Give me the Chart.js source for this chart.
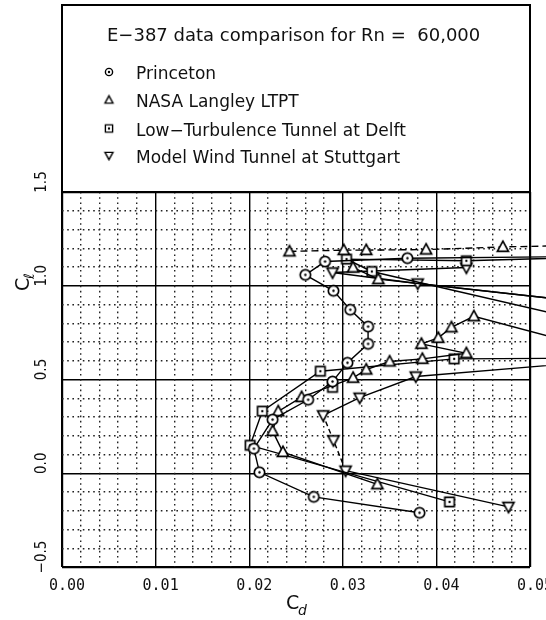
<!DOCTYPE html>
<html>
<head>
<meta charset="utf-8">
<script src="https://cdn.jsdelivr.net/npm/chart.js@4"></script>
<style>
  html, body { margin: 0; padding: 0; background: #fff; }
</style>
</head>
<body>
<canvas id="myChart" width="546" height="620"></canvas>
<script>
// E-387 polar comparison, Rn = 60,000 (Cd on x, Cl on y)

const xTicks = [0.00, 0.01, 0.02, 0.03, 0.04, 0.05];
const yTicks = [-0.5, 0.0, 0.5, 1.0, 1.5];

// Princeton
const princetonCd = [0.0382, 0.0269, 0.0211, 0.0205, 0.0225, 0.0263, 0.0289, 0.0305, 0.0327, 0.0327, 0.0308, 0.0290, 0.0260, 0.0281, 0.0369, 0.0650];
const princetonCl = [-0.211, -0.126, 0.005, 0.131, 0.286, 0.392, 0.489, 0.589, 0.690, 0.782, 0.872, 0.973, 1.058, 1.129, 1.147, 1.160];

// NASA Langley LTPT
const nasaCd = [0.0337, 0.0236, 0.0225, 0.0231, 0.0256, 0.0311, 0.0325, 0.0350, 0.0385, 0.0432, 0.0384, 0.0402, 0.0416, 0.0440, 0.0620];
const nasaCl = [-0.059, 0.113, 0.225, 0.330, 0.406, 0.509, 0.553, 0.596, 0.610, 0.640, 0.690, 0.722, 0.778, 0.837, 0.597];
const nasaUpperCd = [0.0311, 0.0338, 0.0620];
const nasaUpperCl = [1.097, 1.035, 0.879];
const nasaTopCd = [0.0243, 0.0301, 0.0325, 0.0389, 0.0471, 0.0620];
const nasaTopCl = [1.183, 1.190, 1.190, 1.193, 1.207, 1.222];

// Low-Turbulence Tunnel at Delft
const delftCd = [0.0414, 0.0201, 0.0214, 0.0276, 0.0419, 0.0620];
const delftCl = [-0.153, 0.149, 0.331, 0.544, 0.610, 0.615];
const delftUpperCd = [0.0620, 0.0432, 0.0304, 0.0331, 0.0620];
const delftUpperCl = [1.160, 1.133, 1.142, 1.076, 0.743];
const delftLoneCd = [0.0289];
const delftLoneCl = [0.458];

// Model Wind Tunnel at Stuttgart
const stuttgartCd = [0.0477, 0.0303, 0.0290, 0.0279, 0.0318, 0.0378, 0.0620];
const stuttgartCl = [-0.179, 0.014, 0.176, 0.309, 0.403, 0.516, 0.617];
const stuttgartUpperCd = [0.0432, 0.0289, 0.0380, 0.0620];
const stuttgartUpperCl = [1.097, 1.071, 1.012, 0.879];

const legendTitle = 'E\u2212387 data comparison for Rn =  60,000';
const legendNames = ['Princeton', 'NASA Langley LTPT', 'Low\u2212Turbulence Tunnel at Delft', 'Model Wind Tunnel at Stuttgart'];

const zip = (xs, ys) => xs.map((x, i) => ({ x: x, y: ys[i] }));

// marker images (open symbols, dot in circle and square)
function makeMarker(kind, r, lw) {
  const size = Math.ceil(r * 2 + 4);
  const c = document.createElement('canvas');
  c.width = size;
  c.height = size;
  const g = c.getContext('2d');
  const m = size / 2;
  g.lineWidth = lw;
  g.strokeStyle = '#000';
  g.fillStyle = '#fff';
  g.beginPath();
  if (kind === 'circle') {
    g.arc(m, m, r, 0, Math.PI * 2);
  } else if (kind === 'square') {
    g.rect(m - r, m - r, 2 * r, 2 * r);
  } else if (kind === 'up') {
    g.moveTo(m, m - r);
    g.lineTo(m + r * 0.95, m + r * 0.75);
    g.lineTo(m - r * 0.95, m + r * 0.75);
    g.closePath();
  } else {
    g.moveTo(m, m + r);
    g.lineTo(m + r * 0.95, m - r * 0.75);
    g.lineTo(m - r * 0.95, m - r * 0.75);
    g.closePath();
  }
  g.fill();
  g.stroke();
  if (kind === 'circle' || kind === 'square') {
    g.fillStyle = '#000';
    g.beginPath();
    g.arc(m, m, 1.2, 0, Math.PI * 2);
    g.fill();
  }
  return c;
}

const mk = {
  circle: makeMarker('circle', 5.2, 1.7),
  up: makeMarker('up', 5.8, 1.7),
  square: makeMarker('square', 4.7, 1.7),
  down: makeMarker('down', 5.8, 1.7),
};
const legendMk = [makeMarker('circle', 3.6, 1.4), makeMarker('up', 4.2, 1.4), makeMarker('square', 3.6, 1.4), makeMarker('down', 4.2, 1.4)];

const base = {
  showLine: true,
  borderColor: '#000',
  backgroundColor: '#fff',
  borderWidth: 1.4,
  clip: false,
  pointRadius: 5,
};

const isMajor = (v, step) => Math.abs(v / step - Math.round(v / step)) < 1e-6;

// legend box and axis titles
const decor = {
  id: 'decor',
  afterDraw(chart) {
    const ctx = chart.ctx;
    const a = chart.chartArea;
    ctx.save();
    ctx.fillStyle = '#fff';
    ctx.fillRect(a.left, 5, a.right - a.left, a.top - 5);
    ctx.strokeStyle = '#000';
    ctx.lineWidth = 2;
    ctx.strokeRect(a.left, 5, a.right - a.left, a.top - 5);

    ctx.fillStyle = '#111';
    ctx.textBaseline = 'middle';
    ctx.textAlign = 'left';
    ctx.font = '18px "DejaVu Sans"';
    ctx.fillText(legendTitle, 107, 36);
    ctx.font = '17px "DejaVu Sans"';
    const rows = [75, 103, 131.5, 158.5];
    legendNames.forEach((name, i) => {
      const im = legendMk[i];
      ctx.drawImage(im, 109 - im.width / 2, rows[i] - 3 - im.height / 2);
      ctx.fillText(name, 136, rows[i]);
    });

    // x title: C sub d
    ctx.font = '19px "DejaVu Sans"';
    ctx.fillText('C', 286, 604);
    ctx.font = 'italic 14px "DejaVu Sans"';
    ctx.fillText('d', 298, 611);

    // y title: C sub l, rotated
    ctx.translate(24, 284);
    ctx.rotate(-Math.PI / 2);
    ctx.font = '19px "DejaVu Sans"';
    ctx.fillText('C', -7, 0);
    ctx.font = '14px "DejaVu Sans"';
    ctx.fillText('\u2113', 5, 6);
    ctx.restore();
  }
};

const ctx = document.getElementById('myChart').getContext('2d');
new Chart(ctx, {
  type: 'scatter',
  data: {
    datasets: [
      { ...base, label: legendNames[0], data: zip(princetonCd, princetonCl), pointStyle: mk.circle },
      { ...base, label: legendNames[1], data: zip(nasaCd, nasaCl), pointStyle: mk.up },
      { ...base, label: legendNames[1], data: zip(nasaUpperCd, nasaUpperCl), pointStyle: mk.up },
      { ...base, label: legendNames[1], data: zip(nasaTopCd, nasaTopCl), pointStyle: mk.up, borderDash: [7, 4] },
      { ...base, label: legendNames[2], data: zip(delftCd, delftCl), pointStyle: mk.square },
      { ...base, label: legendNames[2], data: zip(delftUpperCd, delftUpperCl), pointStyle: mk.square },
      { ...base, label: legendNames[2], data: zip(delftLoneCd, delftLoneCl), pointStyle: mk.square, showLine: false },
      {
        ...base, label: legendNames[3], data: zip(stuttgartCd, stuttgartCl), pointStyle: mk.down,
        segment: { borderDash: c => (c.p0DataIndex === 1 || c.p0DataIndex === 2) ? [5, 3] : undefined }
      },
      { ...base, label: legendNames[3], data: zip(stuttgartUpperCd, stuttgartUpperCl), pointStyle: mk.down },
    ]
  },
  options: {
    responsive: false,
    animation: false,
    events: [],
    layout: { padding: { top: 192, right: 16, left: 0, bottom: 0 } },
    plugins: { legend: { display: false }, tooltip: { enabled: false } },
    scales: {
      x: {
        type: 'linear',
        position: 'bottom',
        min: xTicks[0],
        max: xTicks[xTicks.length - 1],
        afterBuildTicks: s => { s.ticks = xTicks.map(v => ({ value: v })); },
        afterFit: s => { s.height = 53; s.paddingLeft = 0; s.paddingRight = 0; },
        border: { display: false },
        grid: {
          drawTicks: false,
          color: '#000',
          lineWidth: c => (c.tick && (c.tick.value === xTicks[0] || c.tick.value === xTicks[xTicks.length - 1])) ? 2.2 : 1.4,
        },
        ticks: {
          autoSkip: false,
          maxRotation: 0,
          padding: 10,
          labelOffset: 5,
          color: '#111',
          font: { family: 'DejaVu Sans Mono', size: 15 },
          callback: v => v.toFixed(2),
        },
      },
      y: {
        type: 'linear',
        position: 'left',
        min: yTicks[0],
        max: yTicks[yTicks.length - 1],
        afterBuildTicks: s => { s.ticks = yTicks.map(v => ({ value: v })); },
        afterFit: s => { s.width = 62; s.paddingTop = 0; s.paddingBottom = 0; },
        border: { display: false },
        grid: {
          drawTicks: false,
          color: '#000',
          lineWidth: c => (c.tick && (c.tick.value === yTicks[0] || c.tick.value === yTicks[yTicks.length - 1])) ? 2.2 : 1.4,
        },
        ticks: {
          autoSkip: false,
          minRotation: 90,
          maxRotation: 90,
          crossAlign: 'center',
          padding: 4,
          labelOffset: -10,
          color: '#111',
          font: { family: 'DejaVu Sans Condensed', size: 15 },
          callback: v => (v < 0 ? '\u2212' : '') + Math.abs(v).toFixed(1),
        },
      },
      xMinor: {
        type: 'linear',
        position: 'bottom',
        min: xTicks[0],
        max: xTicks[xTicks.length - 1],
        afterFit: s => { s.height = 0; s.paddingLeft = 0; s.paddingRight = 0; },
        border: { display: false, dash: [1.6, 3.6] },
        grid: {
          drawTicks: false,
          lineWidth: 1.4,
          color: c => (c.tick && isMajor(c.tick.value, 0.01)) ? 'rgba(0,0,0,0)' : '#222',
        },
        ticks: { display: false, stepSize: 0.002, autoSkip: false },
      },
      yMinor: {
        type: 'linear',
        position: 'left',
        min: yTicks[0],
        max: yTicks[yTicks.length - 1],
        afterFit: s => { s.width = 0; s.paddingTop = 0; s.paddingBottom = 0; },
        border: { display: false, dash: [1.6, 3.6] },
        grid: {
          drawTicks: false,
          lineWidth: 1.4,
          color: c => (c.tick && isMajor(c.tick.value, 0.5)) ? 'rgba(0,0,0,0)' : '#222',
        },
        ticks: { display: false, stepSize: 0.1, autoSkip: false },
      },
    },
  },
  plugins: [decor],
});
</script>
</body>
</html>
